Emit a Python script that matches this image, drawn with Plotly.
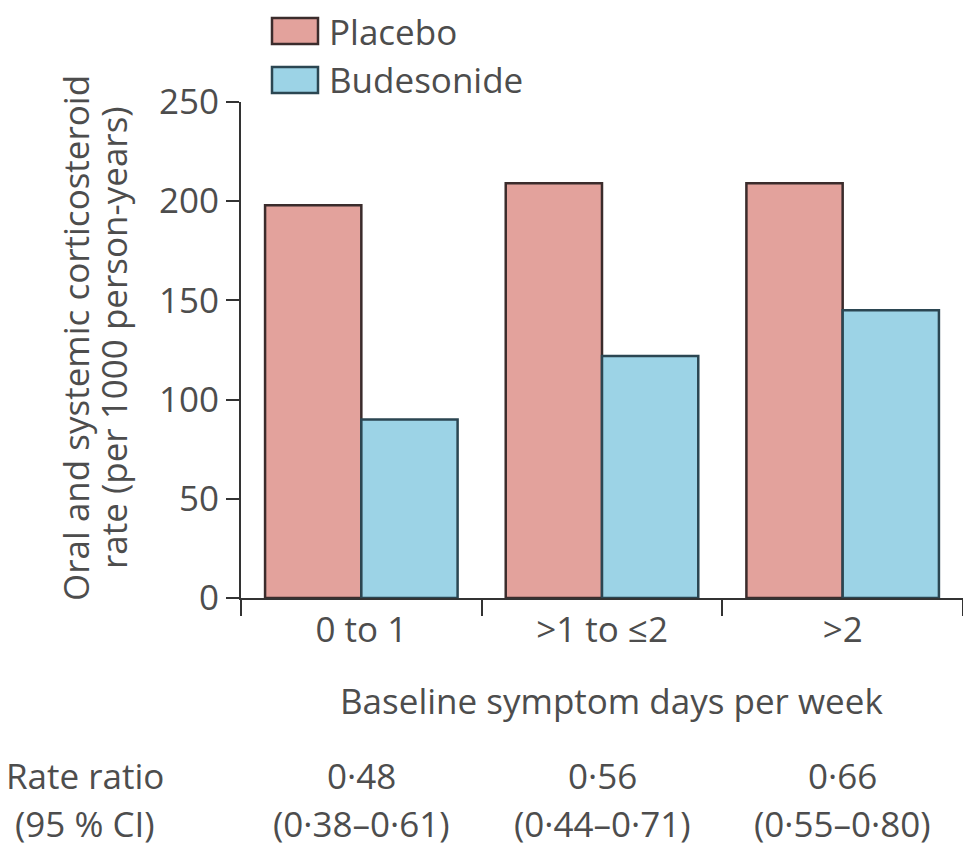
import plotly.graph_objects as go

categories = ["0 to 1", ">1 to ≤2", ">2"]
placebo = [198, 209, 209]
budesonide = [90, 122, 145]
rate_ratio = ["0·48", "0·56", "0·66"]
ci = ["(0·38–0·61)", "(0·44–0·71)", "(0·55–0·80)"]
y_ticks = [0, 50, 100, 150, 200, 250]
y_title_lines = ["Oral and systemic corticosteroid", "rate (per 1000 person-years)"]

FONT = "Open Sans"
TXT = "#4d4d4d"
FS = 35
PL_FILL, PL_LINE = "#E3A29C", "#3b2c2c"
BU_FILL, BU_LINE = "#9CD3E6", "#2b4652"

fig = go.Figure()
fig.add_trace(go.Bar(x=categories, y=placebo, name="Placebo",
                     marker=dict(color=PL_FILL, line=dict(color=PL_LINE, width=2.5))))
fig.add_trace(go.Bar(x=categories, y=budesonide, name="Budesonide",
                     marker=dict(color=BU_FILL, line=dict(color=BU_LINE, width=2.5))))

L, R, T, B = 241, 0, 102, 257
W, H = 963, 855
pw, ph = W - L - R, H - T - B

def px2paper_x(px):
    return (px - L) / pw

def px2paper_y(py):
    return (H - B - py) / ph

fig.update_layout(
    width=W, height=H,
    margin=dict(l=L, r=R, t=T, b=B),
    paper_bgcolor="white", plot_bgcolor="white",
    barmode="group", bargap=0.2, bargroupgap=0,
    showlegend=False,
    font=dict(family=FONT, size=FS, color=TXT),
    xaxis=dict(
        type="category", range=[-0.5, 2.5],
        showline=True, linecolor="#333", linewidth=2,
        ticks="outside", tickson="boundaries", ticklen=16, tickwidth=2, tickcolor="#333",
        tickfont=dict(size=FS, color=TXT),
        showgrid=False, zeroline=False,
    ),
    yaxis=dict(
        range=[0, 250], tickvals=y_ticks,
        showline=True, linecolor="#333", linewidth=2,
        ticks="outside", ticklen=13, tickwidth=2, tickcolor="#333",
        tickfont=dict(size=FS, color=TXT),
        showgrid=False, zeroline=False,
    ),
)

# y-axis title (two rotated lines)
for txt, xpx in zip(y_title_lines, [75, 113]):
    fig.add_annotation(xref="paper", yref="paper", x=px2paper_x(xpx), y=px2paper_y(338),
                       text=txt, textangle=-90, showarrow=False,
                       xanchor="center", yanchor="middle", font=dict(size=FS, color=TXT))

# x-axis title
fig.add_annotation(xref="paper", yref="paper", x=px2paper_x(611), y=px2paper_y(700),
                   text="Baseline symptom days per week", showarrow=False,
                   xanchor="center", yanchor="middle", font=dict(size=FS, color=TXT))

# manual legend
legend_items = [("Placebo", PL_FILL, PL_LINE, 18, 44), ("Budesonide", BU_FILL, BU_LINE, 67, 93)]
for name, fill, line, y0, y1 in legend_items:
    fig.add_shape(type="rect", xref="paper", yref="paper",
                  x0=px2paper_x(272), x1=px2paper_x(318),
                  y0=px2paper_y(y1), y1=px2paper_y(y0),
                  fillcolor=fill, line=dict(color=line, width=2.5))
    fig.add_annotation(xref="paper", yref="paper", x=px2paper_x(327), y=px2paper_y((y0 + y1) / 2),
                       text=name, showarrow=False, xanchor="left", yanchor="middle",
                       font=dict(size=FS, color=TXT))

# bottom rate ratio rows
row1, row2 = 775, 823
fig.add_annotation(xref="paper", yref="paper", x=px2paper_x(85), y=px2paper_y(row1),
                   text="Rate ratio", showarrow=False, xanchor="center", yanchor="middle",
                   font=dict(size=FS, color=TXT))
fig.add_annotation(xref="paper", yref="paper", x=px2paper_x(85), y=px2paper_y(row2),
                   text="(95 % CI)", showarrow=False, xanchor="center", yanchor="middle",
                   font=dict(size=FS, color=TXT))
for cat, rr, c in zip(categories, rate_ratio, ci):
    fig.add_annotation(xref="x", yref="paper", x=cat, y=px2paper_y(row1), text=rr,
                       showarrow=False, xanchor="center", yanchor="middle",
                       font=dict(size=FS, color=TXT))
    fig.add_annotation(xref="x", yref="paper", x=cat, y=px2paper_y(row2), text=c,
                       showarrow=False, xanchor="center", yanchor="middle",
                       font=dict(size=FS, color=TXT))

fig.write_html("out.html")
